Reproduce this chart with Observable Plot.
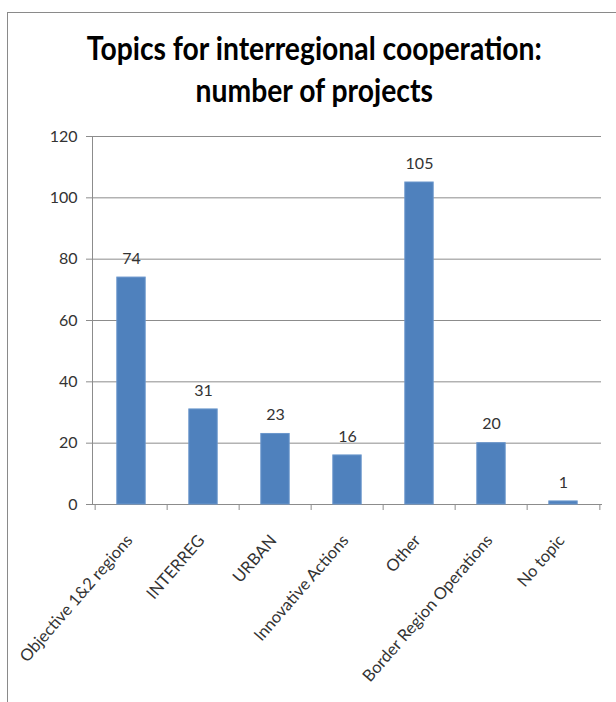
<!DOCTYPE html>
<html>
<head>
<meta charset="utf-8">
<script src="https://cdn.jsdelivr.net/npm/d3@7"></script>
<script src="https://cdn.jsdelivr.net/npm/@observablehq/plot@0.6"></script>
<style>
  html, body { margin: 0; padding: 0; background: #fff; }
  #wrap { position: relative; width: 616px; height: 702px; overflow: hidden; background: #fff; }
  #border { position: absolute; left: 7px; top: 12px; width: 700px; height: 800px; border: 1.5px solid #8a8a8a; box-sizing: border-box; }
  #title { position: absolute; left: 0; top: 27px; width: 628px; text-align: center;
           font-family: Lato, "Liberation Sans", sans-serif;
           font-weight: bold; font-size: 32px; line-height: 42px; color: #000; }
  #title span { display: inline-block; white-space: nowrap; transform-origin: 50% 50%; }
  #chart { position: absolute; left: 0; top: 118px; }
</style>
</head>
<body>
<div id="wrap">
  <div id="border"></div>
  <div id="title"><span id="t1">Topics for interregional cooperation:</span><br><span id="t2">number of projects</span></div>
  <div id="chart"></div>
</div>
<script>
const categories = ["Objective 1&2 regions", "INTERREG", "URBAN", "Innovative Actions", "Other", "Border Region Operations", "No topic"];
const values = [74, 31, 23, 16, 105, 20, 1];
const yTicks = [0, 20, 40, 60, 80, 100, 120];

const data = categories.map((c, i) => ({category: c, value: values[i]}));

// condense the title horizontally so the first line is ~455px wide, like the reference
const t1 = document.getElementById("t1"), t2 = document.getElementById("t2");
const sx = 455 / t1.getBoundingClientRect().width;
t1.style.transform = `scaleX(${sx})`;
t2.style.transform = `scaleX(${sx})`;

const W = 616, H = 584;
const mL = 92, mR = 15, mT = 18, mB = 198;
const bw = (W - mL - mR) / categories.length;
const barInset = bw * 0.3;
const gridColor = "#8c8c8c";
const textColor = "#333333";
const font = "Lato, 'Liberation Sans', sans-serif";

const chart = Plot.plot({
  width: W,
  height: H,
  marginLeft: mL,
  marginRight: mR,
  marginTop: mT,
  marginBottom: mB,
  style: {fontFamily: font, fontSize: "16px", color: textColor, background: "transparent"},
  x: {type: "band", domain: categories, padding: 0, label: null},
  y: {domain: [0, 120], label: null},
  marks: [
    Plot.gridY(yTicks, {stroke: gridColor, strokeOpacity: 1}),
    Plot.frame({anchor: "left", stroke: gridColor}),
    Plot.frame({anchor: "bottom", stroke: gridColor}),
    Plot.axisY(yTicks, {tickSize: 6, tickPadding: 9, stroke: gridColor, strokeOpacity: 1, fill: textColor, fontSize: 16, label: null}),
    // tick marks at band boundaries
    Plot.axisX(categories, {tickSize: 6, stroke: gridColor, strokeOpacity: 1, fill: "none", dx: -bw / 2, label: null}),
    Plot.axisX(categories.slice(-1), {tickSize: 6, stroke: gridColor, strokeOpacity: 1, fill: "none", dx: bw / 2, label: null}),
    // category labels
    Plot.axisX(categories, {tickSize: 0, tickRotate: -49, tickPadding: 33, dx: -2, fill: textColor, fontSize: 16.5, label: null}),
    Plot.barY(data, {x: "category", y: "value", fill: "#4F81BD", stroke: "#6a96cc", strokeWidth: 1, insetLeft: barInset, insetRight: barInset}),
    Plot.text(data, {x: "category", y: "value", text: d => String(d.value), dy: -19, fill: textColor, fontSize: 16})
  ]
});
document.getElementById("chart").appendChild(chart);
</script>
</body>
</html>
